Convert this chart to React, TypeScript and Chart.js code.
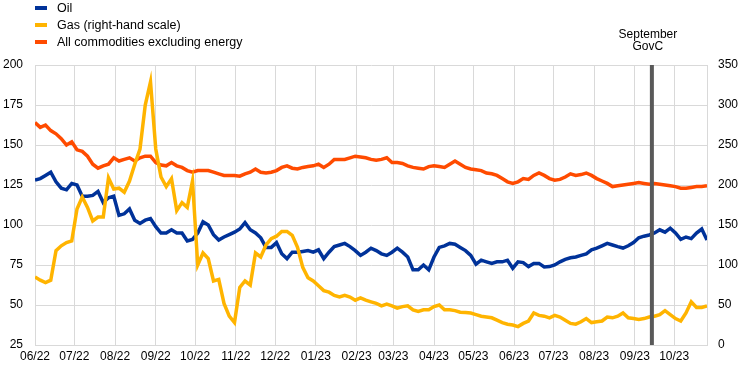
import { useEffect, useRef } from "react";
import { Chart, registerables } from "chart.js";

Chart.register(...registerables);

// ---- Data ----
const startDate = "2022-06-01";
const endDate = "2023-10-26";
const stepDays = 4; // one observation every 4 days from startDate
const monthLabels = [
  "06/22", "07/22", "08/22", "09/22", "10/22", "11/22", "12/22",
  "01/23", "02/23", "03/23", "04/23", "05/23", "06/23", "07/23",
  "08/23", "09/23", "10/23",
];
const seriesNames = ["Oil", "Gas (right-hand scale)", "All commodities excluding energy"];
const seriesColors = ["#003299", "#FFB400", "#FF4B00"];

const oil = [
  128, 129, 131, 133, 127, 123, 122, 126, 125, 118,
  118, 118.5, 121, 114, 117, 118, 106, 107, 110, 103,
  101, 103, 104, 99, 95, 95, 97, 95, 95, 90,
  91, 95, 102, 100, 94, 90.6, 92.5, 94, 95.5, 97.5,
  101.5, 97, 95, 92, 86, 86, 89, 82, 79, 83,
  83, 83.5, 84, 83, 84.5, 79, 83, 86.5, 87.5, 88.5,
  86.5, 84, 81, 83, 85.5, 84, 82, 81, 83, 85.5,
  83, 80, 72, 72, 75, 72, 80, 86, 87, 88.5,
  88, 86, 84, 81, 75.5, 78, 77, 76, 77, 77,
  78, 73, 77, 76.5, 74, 76, 76, 73.75, 74, 75,
  77, 78.5, 79.5, 80, 81, 82, 84.5, 85.5, 87, 88.5,
  87.5, 86.5, 85.6, 87, 89, 92, 93, 93.75, 95, 97,
  95.5, 98, 95, 91, 92.5, 91.5, 95, 97.5, 90.6,
];

const gas = [
  85, 81, 78, 81, 118, 124, 128, 130, 170, 185,
  172, 155, 160, 160, 209, 195, 196, 191, 205, 226,
  245, 300, 329, 245, 210, 198, 208, 168, 178, 172,
  205, 100, 115, 108, 80, 82, 52, 36, 28, 72,
  80, 75, 115, 110, 125, 133, 136, 142, 142, 137,
  122, 97, 84, 80, 74, 68, 66, 62, 60, 62,
  60, 56, 59, 56, 54, 52, 49, 51, 49, 46,
  48, 49, 44, 42, 44, 44, 48, 50, 44, 44,
  43, 41, 40.5, 40, 38, 36, 35, 34, 31, 28,
  26, 25, 23, 27, 30, 40, 37, 36, 34, 37,
  35, 31, 27, 26, 29, 33, 28, 29, 30, 35,
  34, 36, 40, 34, 33, 32, 33, 35, 36, 38,
  43, 38, 33, 30, 40, 54, 47, 47, 49,
];

const nonEnergy = [
  164, 161, 162.5, 159, 157, 154, 150, 152, 147, 146,
  143, 138, 135.5, 137, 138, 142, 140, 141, 142, 140,
  142, 143, 143, 139, 137.5, 137, 139, 137, 136, 134,
  133, 134, 134, 134, 133, 132, 131, 131, 131, 130.5,
  132, 133, 135, 133, 132.5, 133, 134, 136, 137, 135.5,
  135, 136, 136.5, 137, 138, 136, 138, 141, 141, 141,
  142, 143, 142.5, 142, 141, 140.5, 141, 142, 139, 139,
  138.5, 137, 136, 135.5, 135, 136.5, 137, 136.5, 136, 138,
  140, 138, 136, 135, 134.5, 134, 132.5, 132, 131, 129,
  127, 126, 127, 129, 128.5, 131, 132.5, 131, 129, 128,
  128.5, 130, 132, 131, 131.5, 132.5, 131, 129, 127.5, 126,
  124, 124.5, 125, 125.5, 126, 126.5, 126, 125.5, 126, 125.5,
  125, 124.5, 124, 123, 123, 123.5, 124, 124, 124.5,
];

const eventDate = "2023-09-14";
const eventLabel = ["September", "GovC"];
const leftAxis = { min: 25, max: 200, step: 25 };
const rightAxis = { min: 0, max: 350, step: 50 };

// ---- helpers ----
const FONT = "'Liberation Sans', Arial, sans-serif";

function toUTC(s: string) {
  const [y, m, d] = s.split("-").map(Number);
  return Date.UTC(y, m - 1, d);
}
function dayOffset(s: string) {
  return (toUTC(s) - toUTC(startDate)) / 86400000;
}
function monthLabelToDay(lbl: string) {
  const [mm, yy] = lbl.split("/");
  return dayOffset(`20${yy}-${mm}-01`);
}
const toPoints = (arr: number[]) => arr.map((v, i) => ({ x: i * stepDays, y: v }));

const overlayPlugin = {
  id: "overlay",
  afterDatasetsDraw(chart: any) {
    const { ctx, chartArea, scales } = chart;
    const x = scales.x.getPixelForValue(dayOffset(eventDate));
    ctx.save();
    ctx.strokeStyle = "#595959";
    ctx.lineWidth = 4;
    ctx.beginPath();
    ctx.moveTo(x, chartArea.top);
    ctx.lineTo(x, chartArea.bottom);
    ctx.stroke();
    ctx.fillStyle = "#000000";
    ctx.font = `12px ${FONT}`;
    ctx.textAlign = "center";
    ctx.textBaseline = "middle";
    ctx.fillText(eventLabel[0], x - 4, 35);
    ctx.fillText(eventLabel[1], x - 4, 47);
    ctx.restore();
  },
  afterDraw(chart: any) {
    const { ctx } = chart;
    ctx.save();
    ctx.font = `12.5px ${FONT}`;
    ctx.textAlign = "left";
    ctx.textBaseline = "middle";
    seriesNames.forEach((name, i) => {
      const cy = 8 + i * 17;
      ctx.fillStyle = seriesColors[i];
      ctx.fillRect(35, cy - 2, 12, 4);
      ctx.fillStyle = "#000000";
      ctx.fillText(name, 57, cy + 0.5);
    });
    ctx.restore();
  },
};

export default function App() {
  const canvasRef = useRef<HTMLCanvasElement | null>(null);

  useEffect(() => {
    document.body.style.margin = "0";
    const canvas = canvasRef.current;
    if (!canvas) return;
    const monthDays = monthLabels.map(monthLabelToDay);
    const chart = new Chart(canvas, {
      type: "line",
      data: {
        datasets: [
          {
            label: seriesNames[0],
            data: toPoints(oil),
            borderColor: seriesColors[0],
            backgroundColor: seriesColors[0],
            borderWidth: 3.5,
            pointRadius: 0,
            tension: 0,
            yAxisID: "y",
            order: 1,
          },
          {
            label: seriesNames[1],
            data: toPoints(gas),
            borderColor: seriesColors[1],
            backgroundColor: seriesColors[1],
            borderWidth: 3.5,
            pointRadius: 0,
            tension: 0,
            yAxisID: "y1",
            order: 0,
          },
          {
            label: seriesNames[2],
            data: toPoints(nonEnergy),
            borderColor: seriesColors[2],
            backgroundColor: seriesColors[2],
            borderWidth: 3.5,
            pointRadius: 0,
            tension: 0,
            yAxisID: "y",
            order: 2,
          },
        ],
      },
      options: {
        responsive: false,
        animation: false,
        events: [],
        layout: { padding: { top: 65, left: 0, right: 0, bottom: 0 } },
        plugins: {
          legend: { display: false },
          tooltip: { enabled: false },
        },
        scales: {
          x: {
            type: "linear",
            min: 0,
            max: dayOffset(endDate),
            afterBuildTicks: (scale: any) => {
              scale.ticks = monthDays.map((v) => ({ value: v }));
            },
            afterFit: (scale: any) => {
              scale.height = 26;
            },
            ticks: {
              autoSkip: false,
              maxRotation: 0,
              padding: 4,
              color: "#000000",
              font: { family: FONT, size: 12 },
              callback: (value: any) => {
                const idx = monthDays.indexOf(Number(value));
                return idx >= 0 ? monthLabels[idx] : "";
              },
            },
            grid: { color: "#d9d9d9", lineWidth: 1, drawTicks: false },
            border: { display: false },
          },
          y: {
            position: "left",
            min: leftAxis.min,
            max: leftAxis.max,
            afterFit: (scale: any) => {
              scale.width = 35;
            },
            ticks: {
              stepSize: leftAxis.step,
              padding: 12,
              color: "#000000",
              font: { family: FONT, size: 12 },
            },
            grid: { color: "#d9d9d9", lineWidth: 1, drawTicks: false },
            border: { display: true, color: "#d9d9d9" },
          },
          y1: {
            position: "right",
            min: rightAxis.min,
            max: rightAxis.max,
            afterFit: (scale: any) => {
              scale.width = 36;
            },
            ticks: {
              stepSize: rightAxis.step,
              padding: 11,
              color: "#000000",
              font: { family: FONT, size: 12 },
            },
            grid: { drawOnChartArea: false, drawTicks: false },
            border: { display: true, color: "#d9d9d9" },
          },
        },
      },
      plugins: [overlayPlugin],
    });
    return () => chart.destroy();
  }, []);

  return (
    <div style={{ width: 743, height: 371 }}>
      <canvas ref={canvasRef} width={743} height={371} />
    </div>
  );
}
